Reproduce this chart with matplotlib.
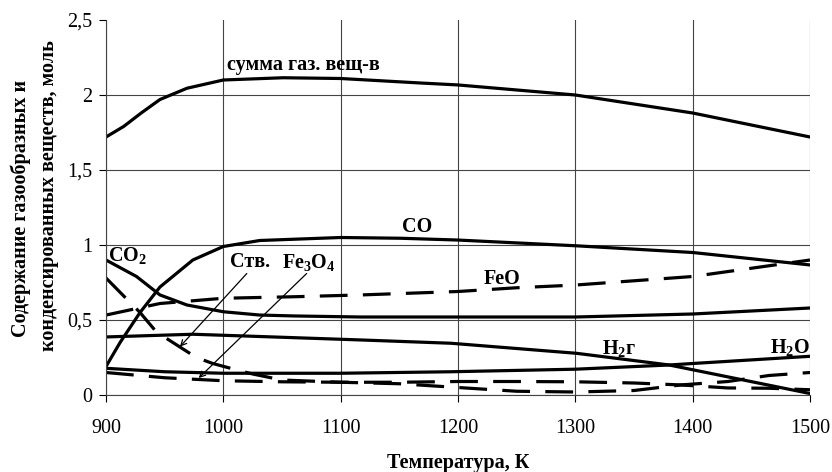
import matplotlib
matplotlib.use('Agg')
import matplotlib.pyplot as plt

plt.rcParams['font.family'] = ['Liberation Serif', 'DejaVu Serif']
plt.rcParams['mathtext.fontset'] = 'custom'
plt.rcParams['mathtext.rm'] = 'Liberation Serif'
plt.rcParams['mathtext.bf'] = 'Liberation Serif:bold'
plt.rcParams['lines.scale_dashes'] = False

# series (temperature K, mol)
sum_t = [900, 915, 930, 946, 969, 1000, 1051, 1100, 1168, 1200, 1300, 1400, 1500]
sum_v = [1.72, 1.79, 1.88, 1.97, 2.045, 2.10, 2.115, 2.11, 2.08, 2.067, 2.0, 1.88, 1.72]

co_t = [900, 912, 929, 946, 974, 1000, 1031, 1100, 1151, 1200, 1300, 1400, 1500]
co_v = [0.19, 0.35, 0.55, 0.72, 0.90, 0.99, 1.03, 1.05, 1.045, 1.033, 0.995, 0.95, 0.867]

co2_t = [900, 926, 946, 969, 1000, 1031, 1060, 1117, 1200, 1300, 1400, 1500]
co2_v = [0.9, 0.79, 0.667, 0.6, 0.555, 0.533, 0.527, 0.52, 0.52, 0.52, 0.54, 0.58]

feo_t = [900, 946, 1000, 1060, 1117, 1200, 1250, 1300, 1400, 1500]
feo_v = [0.533, 0.61, 0.645, 0.655, 0.667, 0.69, 0.715, 0.733, 0.79, 0.9]

h2_t = [900, 974, 1031, 1117, 1194, 1301, 1380, 1440, 1500]
h2_v = [0.387, 0.405, 0.39, 0.367, 0.345, 0.278, 0.2, 0.105, 0.01]

h2o_t = [900, 950, 1000, 1100, 1194, 1300, 1380, 1400, 1500]
h2o_v = [0.178, 0.155, 0.145, 0.145, 0.155, 0.172, 0.2, 0.21, 0.258]

c_t = [900, 917, 929, 943, 957, 977, 991, 1010, 1025, 1050, 1100, 1150, 1200,
       1250, 1300, 1350, 1390, 1430, 1465, 1500]
c_v = [0.78, 0.645, 0.55, 0.42, 0.35, 0.25, 0.21, 0.17, 0.14, 0.1, 0.085, 0.075,
       0.05, 0.025, 0.02, 0.03, 0.067, 0.09, 0.13, 0.15]

fe3o4_t = [900, 950, 1000, 1050, 1100, 1150, 1200, 1250, 1300, 1350, 1390, 1430, 1465, 1500]
fe3o4_v = [0.15, 0.115, 0.095, 0.088, 0.085, 0.085, 0.09, 0.09, 0.088, 0.08, 0.067,
           0.047, 0.045, 0.035]

xticks = [900, 1000, 1100, 1200, 1300, 1400, 1500]
yticks = [0, 0.5, 1, 1.5, 2, 2.5]
ytick_labels = ['0', '0,5', '1', '1,5', '2', '2,5']

fig = plt.figure(figsize=(8.32, 4.72), dpi=100)
ax = fig.add_axes([106/832, 1 - 395/472, 704/832, 375/472])

lw = 2.3
dash = (20, 11)
ax.plot(sum_t, sum_v, color='black', lw=lw)
ax.plot(co_t, co_v, color='black', lw=lw)
ax.plot(co2_t, co2_v, color='black', lw=lw)
ax.plot(h2_t, h2_v, color='black', lw=lw)
ax.plot(h2o_t, h2o_v, color='black', lw=lw)
ax.plot(feo_t, feo_v, color='black', lw=lw, dashes=dash)
ax.plot(c_t, c_v, color='black', lw=lw, dashes=dash)
ax.plot(fe3o4_t, fe3o4_v, color='black', lw=lw, dashes=dash)

ax.set_xlim(900, 1500)
ax.set_ylim(0, 2.5)
ax.set_xticks(xticks)
ax.set_yticks(yticks)
ax.set_yticklabels(ytick_labels)
ax.tick_params(direction='out', length=5, width=0.8, labelsize=14.5, colors='black')
ax.tick_params(axis='x', pad=12)
ax.tick_params(axis='y', pad=5)
ax.grid(True, color='#444444', lw=0.8)
ax.yaxis.get_gridlines()[-1].set_visible(False)
for s in ['top', 'right']:
    ax.spines[s].set_visible(False)
for s in ['left', 'bottom']:
    ax.spines[s].set_color('#444444')
    ax.spines[s].set_linewidth(0.8)

lab = dict(fontsize=14.5, fontweight='bold', color='black')
ax.text(1003, 2.2, 'сумма газ. вещ-в', ha='left', va='center', **lab)
ax.text(1152, 1.12, 'CO', ha='left', va='center', **lab)
ax.text(1222, 0.775, 'FeO', ha='left', va='center', **lab)
ax.text(902, 0.93, r'$\mathbf{CO_2}$', ha='left', va='center', **lab)
ax.text(1006, 0.885, 'Ств.', ha='left', va='center', **lab)
ax.text(1050, 0.885, r'$\mathbf{Fe_3O_4}$', ha='left', va='center', **lab)
ax.text(1323, 0.31, r'$\mathbf{H_2}$г', ha='left', va='center', **lab)
ax.text(1500, 0.315, r'$\mathbf{H_2O}$', ha='right', va='center', **lab)

arr = dict(arrowstyle='->', color='black', lw=0.9, shrinkA=0, shrinkB=0)
ax.annotate('', xy=(963, 0.322), xytext=(1020, 0.81), arrowprops=arr)
ax.annotate('', xy=(979, 0.113), xytext=(1071, 0.81), arrowprops=arr)

fig.text(458/832, 1 - 463/472, 'Температура, К', ha='center', va='center',
         fontsize=14.5, fontweight='bold')
fig.text(21/832, 1 - 208/472, 'Содержание газообразных и', ha='center', va='center',
         rotation=90, fontsize=14.5, fontweight='bold')
fig.text(49/832, 1 - 196/472, 'конденсированных веществ, моль', ha='center', va='center',
         rotation=90, fontsize=14.5, fontweight='bold')

fig.savefig('out.png', dpi=100)
